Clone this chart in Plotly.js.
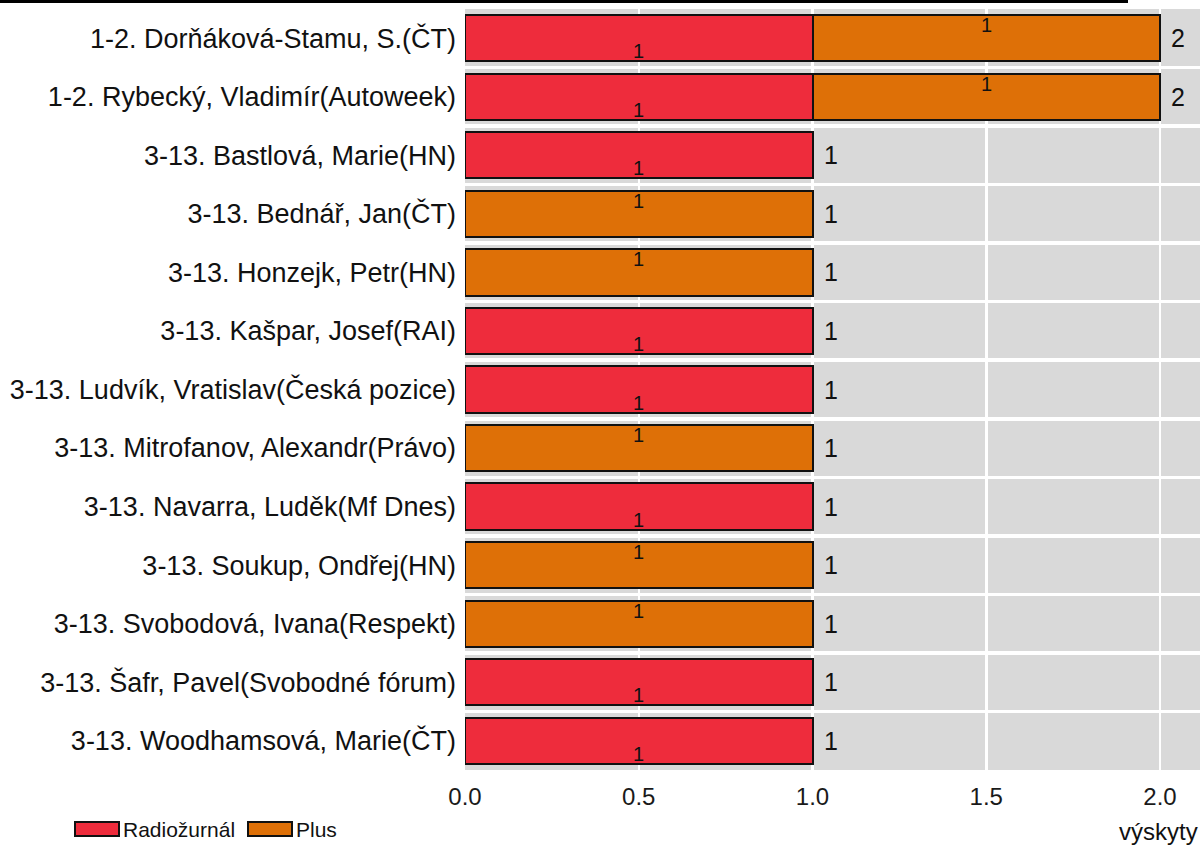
<!DOCTYPE html>
<html>
<head>
<meta charset="utf-8">
<script src="https://cdn.plot.ly/plotly-3.0.1.min.js"></script>
<style>html,body{margin:0;padding:0;background:#fff;}#chart{width:1200px;height:848px;}</style>
</head>
<body>
<div id="chart"></div>
<script>
const categories = [
  "1-2. Dorňáková-Stamu, S.(ČT)",
  "1-2. Rybecký, Vladimír(Autoweek)",
  "3-13. Bastlová, Marie(HN)",
  "3-13. Bednář, Jan(ČT)",
  "3-13. Honzejk, Petr(HN)",
  "3-13. Kašpar, Josef(RAI)",
  "3-13. Ludvík, Vratislav(Česká pozice)",
  "3-13. Mitrofanov, Alexandr(Právo)",
  "3-13. Navarra, Luděk(Mf Dnes)",
  "3-13. Soukup, Ondřej(HN)",
  "3-13. Svobodová, Ivana(Respekt)",
  "3-13. Šafr, Pavel(Svobodné fórum)",
  "3-13. Woodhamsová, Marie(ČT)"
];
const radiozurnal = [1,1,1,0,0,1,1,0,1,0,0,1,1];
const plus        = [1,1,0,1,1,0,0,1,0,1,1,0,0];
const seriesNames = ["Radiožurnál", "Plus"];
const seriesColors = ["#EE2C3C", "#DE7007"];
const xTickVals = [0, 0.5, 1, 1.5, 2];
const xTickText = ["0.0", "0.5", "1.0", "1.5", "2.0"];
const xTitle = "výskyty";

const series = [radiozurnal, plus];
const W = 1200, H = 848;
const mL = 465, mR = 0, mT = 9, mB = 78;
const plotW = W - mL - mR, plotH = H - mT - mB;
const FONT = 'Liberation Sans, Arial, sans-serif';

const traces = series.map((vals, i) => {
  const xs = [], ys = [];
  vals.forEach((v, j) => { if (v > 0) { xs.push(v); ys.push(categories[j]); } });
  return {
    type: 'bar', orientation: 'h', name: seriesNames[i],
    x: xs, y: ys,
    marker: {color: seriesColors[i], line: {color: '#111', width: 2}},
    showlegend: false, hoverinfo: 'x+y+name'
  };
});

const annotations = [];
categories.forEach((c, j) => {
  let base = 0;
  series.forEach((vals, i) => {
    const v = vals[j];
    if (v > 0) {
      annotations.push({
        x: base + v / 2, y: c, xref: 'x', yref: 'y',
        text: String(v), showarrow: false,
        yshift: i === 0 ? -13 : 13,
        font: {family: FONT, size: 20, color: '#111'}
      });
    }
    base += v;
  });
  annotations.push({
    x: base, y: c, xref: 'x', yref: 'y', text: String(base), showarrow: false,
    xanchor: 'left', xshift: 9,
    font: {family: FONT, size: 25, color: '#111'}
  });
});

annotations.push({
  x: (1117 - mL) / plotW, y: -(832 - (mT + plotH)) / plotH,
  xref: 'paper', yref: 'paper', xanchor: 'left', yanchor: 'middle',
  text: xTitle, showarrow: false,
  font: {family: FONT, size: 24, color: '#111'}
});

// custom legend
const shapes = [];
const legBoxX = [75, 248];
seriesNames.forEach((n, i) => {
  const bx0 = legBoxX[i], bx1 = bx0 + 44;
  shapes.push({
    type: 'rect', xref: 'paper', yref: 'paper',
    x0: (bx0 - mL) / plotW, x1: (bx1 - mL) / plotW,
    y0: -(836 - (mT + plotH)) / plotH, y1: -(822 - (mT + plotH)) / plotH,
    fillcolor: seriesColors[i], line: {color: '#111', width: 2}
  });
  annotations.push({
    x: (bx1 + 2 - mL) / plotW, y: -(829 - (mT + plotH)) / plotH,
    xref: 'paper', yref: 'paper', xanchor: 'left', yanchor: 'middle',
    text: n, showarrow: false,
    font: {family: FONT, size: 21, color: '#111'}
  });
});

shapes.push({
  type: 'line', xref: 'paper', yref: 'paper',
  x0: (0 - mL) / plotW, x1: (1128 - mL) / plotW,
  y0: 1 + (mT - 1.5) / plotH, y1: 1 + (mT - 1.5) / plotH,
  line: {color: '#000', width: 3}
});

const layout = {
  width: W, height: H,
  margin: {l: mL, r: mR, t: mT, b: mB, pad: 0},
  paper_bgcolor: '#ffffff', plot_bgcolor: '#d9d9d9',
  barmode: 'stack', bargap: 0.21,
  font: {family: FONT, color: '#111'},
  xaxis: {
    range: [0, plotW / 347.5], tickvals: xTickVals, ticktext: xTickText,
    showgrid: true, gridcolor: '#ffffff', gridwidth: 2.5, zeroline: false,
    ticks: '', ticklabelstandoff: 10, showline: false,
    tickfont: {size: 24, color: '#1a1a1a'}, fixedrange: true
  },
  yaxis: {
    type: 'category', categoryorder: 'array', categoryarray: categories,
    autorange: 'reversed', tickson: 'boundaries',
    showgrid: true, gridcolor: '#ffffff', gridwidth: 3.5,
    ticks: '', ticklabelstandoff: 8, showline: false, zeroline: false,
    tickfont: {size: 27, color: '#111'}, fixedrange: true
  },
  shapes: shapes,
  annotations: annotations,
  showlegend: false
};

Plotly.newPlot('chart', traces, layout, {displayModeBar: false, staticPlot: true});
</script>
</body>
</html>
